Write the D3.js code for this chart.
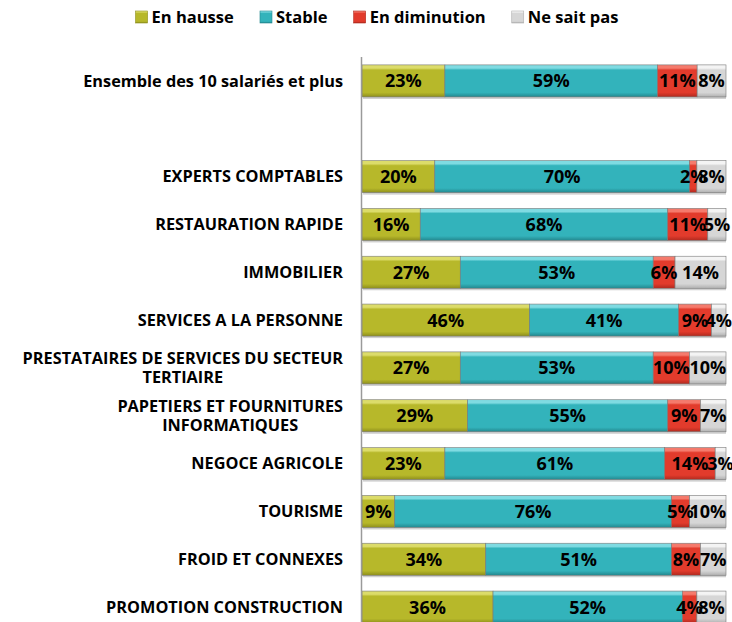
<!DOCTYPE html>
<html>
<head>
    <meta charset="utf-8">
    <script src="https://d3js.org/d3.v7.min.js"></script>
    <style>
        body { margin: 0; background: #fff; }
        text { font-family: "Open Sans", Lato, sans-serif; font-weight: bold; fill: #000; }
    </style>
</head>
<body>
<div id="chart"></div>
<script>
    // categories (\n = line break in the label)
    const categories = [
        "Ensemble des 10 salariés et plus",
        "EXPERTS COMPTABLES",
        "RESTAURATION RAPIDE",
        "IMMOBILIER",
        "SERVICES A LA PERSONNE",
        "PRESTATAIRES DE SERVICES DU SECTEUR\nTERTIAIRE",
        "PAPETIERS ET FOURNITURES\nINFORMATIQUES",
        "NEGOCE AGRICOLE",
        "TOURISME",
        "FROID ET CONNEXES",
        "PROMOTION CONSTRUCTION"
    ];
    const seriesNames = ["En hausse", "Stable", "En diminution", "Ne sait pas"];
    const hausse     = [23, 20, 16, 27, 46, 27, 29, 23,  9, 34, 36];
    const stable     = [59, 70, 68, 53, 41, 53, 55, 61, 76, 51, 52];
    const diminution = [11,  2, 11,  6,  9, 10,  9, 14,  5,  8,  4];
    const neSaitPas  = [ 8,  8,  5, 14,  4, 10,  7,  3, 10,  7,  8];

    const colors = ["#b7b82a", "#33b3bb", "#e23b2c", "#d6d6d6"];
    const light  = ["#dcdc6a", "#7fdbe2", "#f57a6c", "#f4f4f4"];
    const dark   = ["#8e8f1c", "#23888f", "#b02a1f", "#b0b0b0"];

    const W = 732, H = 622;
    const margin = { top: 57, right: 6, bottom: -9, left: 362 };
    const width = W - margin.left - margin.right,
        height = H - margin.top - margin.bottom;

    const svg = d3.select("#chart").append("svg")
        .attr("width", W).attr("height", H);

    // gradients for the bevel look
    const defs = svg.append("defs");
    colors.forEach((c, i) => {
        const g = defs.append("linearGradient")
            .attr("id", "grad" + i)
            .attr("x1", 0).attr("y1", 0).attr("x2", 0).attr("y2", 1);
        g.append("stop").attr("offset", "0%").attr("stop-color", light[i]);
        g.append("stop").attr("offset", "10%").attr("stop-color", light[i]);
        g.append("stop").attr("offset", "16%").attr("stop-color", c);
        g.append("stop").attr("offset", "86%").attr("stop-color", c);
        g.append("stop").attr("offset", "100%").attr("stop-color", dark[i]);
    });

    const rows = categories.map((c, i) => {
        const vals = [hausse[i], stable[i], diminution[i], neSaitPas[i]];
        return { cat: c, vals: vals, total: d3.sum(vals) };
    });

    // blank row after the total line
    const domain = [categories[0], "__gap__"].concat(categories.slice(1));

    const y = d3.scaleBand()
        .domain(domain)
        .range([0, height])
        .paddingInner(0.33)
        .paddingOuter(0.165);

    const x = d3.scaleLinear()
        .domain([0, 1])
        .range([0, width]);

    const g = svg.append("g")
        .attr("transform", `translate(${margin.left},${margin.top})`);

    // segments
    const segs = [];
    rows.forEach(r => {
        let acc = 0;
        r.vals.forEach((v, k) => {
            segs.push({ cat: r.cat, k: k, v: v, x0: acc / r.total, x1: (acc + v) / r.total });
            acc += v;
        });
    });

    // soft shadow under each bar
    g.selectAll(".shadow").data(rows).join("rect")
        .attr("class", "shadow")
        .attr("x", 1)
        .attr("y", d => y(d.cat) + 2)
        .attr("width", x(1) - 1)
        .attr("height", y.bandwidth())
        .attr("fill", "#cfcfcf");

    g.selectAll(".seg").data(segs).join("rect")
        .attr("class", "seg")
        .attr("x", d => x(d.x0))
        .attr("y", d => y(d.cat))
        .attr("width", d => x(d.x1) - x(d.x0))
        .attr("height", y.bandwidth())
        .attr("fill", d => `url(#grad${d.k})`)
        .attr("stroke", "#7a7a7a")
        .attr("stroke-width", 0.6);

    g.selectAll(".val").data(segs).join("text")
        .attr("class", "val")
        .attr("x", d => (x(d.x0) + x(d.x1)) / 2)
        .attr("y", d => y(d.cat) + y.bandwidth() / 2)
        .attr("dy", "0.36em")
        .attr("text-anchor", "middle")
        .style("font-size", "18px")
        .text(d => d.v + "%");

    // vertical axis line
    g.append("line")
        .attr("x1", -0.5).attr("x2", -0.5)
        .attr("y1", 0).attr("y2", height)
        .attr("stroke", "#9a9a9a")
        .attr("stroke-width", 1.5);

    // category labels
    const fs = 16.3;
    const labels = g.selectAll(".cat").data(rows).join("text")
        .attr("class", "cat")
        .style("font-size", fs + "px")
        .attr("y", d => y(d.cat) + y.bandwidth() / 2);

    labels.each(function (d) {
        const t = d3.select(this);
        const lines = d.cat.split("\n");
        const lh = 19;
        lines.forEach((l, i) => {
            t.append("tspan")
                .attr("dy", i === 0 ? (0.36 - (lines.length - 1) * lh / 2 / fs) + "em" : lh + "px")
                .text(l);
        });
        // right align first line, center the other lines under it
        const tsp = t.selectAll("tspan").nodes();
        const w0 = tsp[0].getComputedTextLength();
        const cx = -19 - w0 / 2;
        tsp.forEach(n => {
            d3.select(n).attr("x", cx).attr("text-anchor", "middle");
        });
    });

    // legend
    const legend = svg.append("g").attr("transform", "translate(0,17)");
    const items = legend.selectAll("g").data(seriesNames).join("g");
    items.append("rect")
        .attr("y", -6).attr("width", 12).attr("height", 12)
        .attr("fill", (d, i) => `url(#grad${i})`)
        .attr("stroke", (d, i) => dark[i]).attr("stroke-width", 0.6);
    items.append("text")
        .attr("x", 16).attr("dy", "0.36em")
        .style("font-size", "16.5px")
        .text(d => d);
    let off = 0;
    const widths = [];
    items.each(function () {
        widths.push(this.getBBox().width);
    });
    const gap = 26;
    const total = d3.sum(widths) + gap * (widths.length - 1);
    off = 377 - total / 2;
    items.attr("transform", (d, i) => {
        const t = `translate(${off},0)`;
        off += widths[i] + gap;
        return t;
    });
</script>
</body>
</html>
